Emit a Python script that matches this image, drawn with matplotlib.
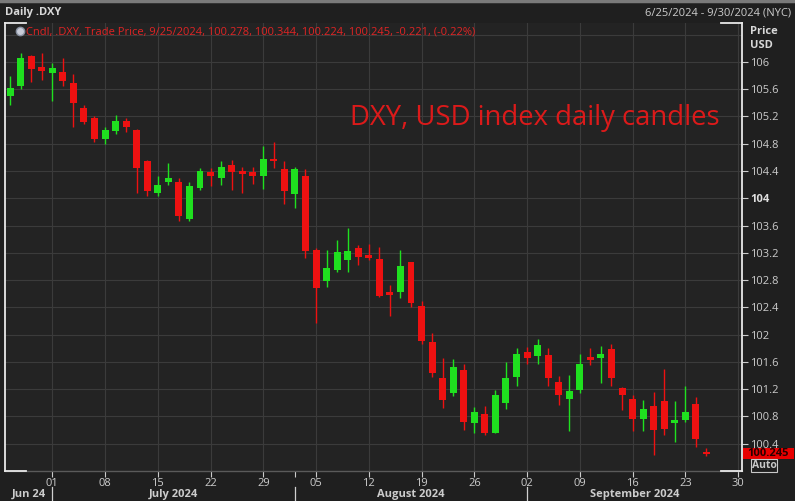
import numpy as np
import pandas as pd
import matplotlib
matplotlib.use("Agg")
import matplotlib.pyplot as plt
from matplotlib.patches import Rectangle

# DXY daily candles, 25 Jun - 25 Sep 2024
dates = pd.bdate_range("2024-06-25", "2024-09-25")
opens = [105.50, 105.65, 106.08, 105.93, 105.84, 105.85, 105.69, 105.33, 105.17, 104.87,
         104.99, 105.14, 105.00, 104.54, 104.07, 104.24, 104.24, 103.70, 104.15, 104.38,
         104.30, 104.49, 104.39, 104.38, 104.33, 104.57, 104.43, 104.06, 104.32, 103.24,
         102.79, 102.95, 103.10, 103.27, 103.17, 103.11, 102.63, 102.63, 103.06, 102.42,
         101.89, 101.37, 101.14, 101.48, 100.70, 100.84, 100.56, 101.00, 101.38, 101.74,
         101.68, 101.70, 101.30, 101.06, 101.19, 101.66, 101.66, 101.79, 101.22, 101.06,
         100.76, 100.95, 101.03, 100.70, 100.75, 100.98, 100.278]
highs = [105.79, 106.13, 106.10, 106.13, 105.99, 106.06, 105.82, 105.37, 105.20, 105.04,
         105.22, 105.17, 105.02, 104.56, 104.33, 104.51, 104.30, 104.24, 104.44, 104.44,
         104.55, 104.56, 104.46, 104.46, 104.77, 104.82, 104.55, 104.46, 104.43, 103.27,
         103.24, 103.39, 103.56, 103.32, 103.33, 103.29, 102.73, 103.24, 103.07, 102.49,
         102.02, 101.66, 101.64, 101.57, 100.94, 100.95, 101.19, 101.60, 101.81, 101.82,
         101.94, 101.80, 101.39, 101.41, 101.72, 101.80, 101.83, 101.86, 101.23, 101.12,
         101.04, 101.16, 101.50, 101.03, 101.25, 101.08, 100.344]
lows = [105.37, 105.60, 105.71, 105.73, 105.42, 105.65, 105.05, 105.09, 104.83, 104.80,
        104.94, 104.97, 104.08, 104.03, 104.03, 104.20, 103.66, 103.66, 104.12, 104.18,
        104.20, 104.12, 104.08, 104.21, 104.14, 104.45, 103.92, 103.86, 103.12, 102.17,
        102.70, 102.92, 102.92, 103.02, 103.10, 102.55, 102.27, 102.54, 102.40, 101.86,
        101.38, 100.93, 101.10, 100.60, 100.55, 100.53, 100.55, 100.91, 101.25, 101.57,
        101.57, 101.25, 100.97, 100.59, 101.15, 101.55, 101.29, 101.24, 100.89, 100.59,
        100.58, 100.23, 100.53, 100.42, 100.72, 100.35, 100.224]
closes = [105.61, 106.05, 105.90, 105.86, 105.91, 105.72, 105.40, 105.12, 104.87, 105.00,
          105.13, 105.05, 104.44, 104.10, 104.20, 104.29, 103.74, 104.18, 104.40, 104.32,
          104.46, 104.39, 104.36, 104.32, 104.58, 104.54, 104.10, 104.43, 103.22, 102.69,
          102.97, 103.21, 103.23, 103.14, 103.13, 102.56, 102.58, 103.00, 102.47, 101.90,
          101.44, 101.04, 101.53, 100.72, 100.86, 100.56, 101.12, 101.37, 101.72, 101.66,
          101.85, 101.37, 101.12, 101.18, 101.57, 101.63, 101.71, 101.37, 101.12, 100.76,
          100.91, 100.60, 100.62, 100.75, 100.86, 100.47, 100.245]

price_ticks = [100.4, 100.8, 101.2, 101.6, 102.0, 102.4, 102.8, 103.2, 103.6, 104.0,
               104.4, 104.8, 105.2, 105.6, 106.0]
price_labels = ["100.4", "100.8", "101.2", "101.6", "102", "102.4", "102.8", "103.2",
                "103.6", "104", "104.4", "104.8", "105.2", "105.6", "106"]
months = ["Jun 24", "July 2024", "August 2024", "September 2024"]

plt.rcParams["font.family"] = ["Open Sans", "DejaVu Sans"]

W, H = 795, 501
BG = "#1f1f1f"
PLOT_BG = "#232323"
GRID = "#3b3b3b"
TXT = "#cccccc"
UP = "#1fe01f"
DOWN = "#ee1111"

def fx(px):
    return px / W

def fy(py):
    return 1 - py / H

fig = plt.figure(figsize=(W / 100, H / 100), dpi=100, facecolor=BG)
ax = fig.add_axes([fx(5), fy(471), fx(742) - fx(5), fy(23) - fy(471)], facecolor=PLOT_BG)

# trading-day axis, Jul 1 = 0
axis_days = pd.bdate_range("2024-06-25", "2024-09-30")
pos = {d: i - 4 for i, d in enumerate(axis_days)}
x = np.array([pos[d] for d in dates])

o = np.array(opens)
h = np.array(highs)
l = np.array(lows)
c = np.array(closes)
cols = np.where(c >= o, UP, DOWN)

ax.vlines(x, l, h, colors=cols, lw=1.0, zorder=3)
body = np.maximum(np.abs(c - o), 0.04)
ax.bar(x, body, bottom=np.minimum(o, c), width=0.66, color=cols, zorder=4)

ax.set_xlim(-4.48, 65.37)
ax.set_ylim(100.0, 106.57)

# grid
mondays = [d for d in axis_days if d.weekday() == 0]
mon_x = [pos[d] for d in mondays]
for gx in mon_x:
    ax.axvline(gx, color=GRID, lw=0.8, zorder=1)
for gy in price_ticks + [106.4]:
    ax.axhline(gy, color=GRID, lw=0.8, zorder=1)

# frame: white sides, white corner stubs
for s in ["top", "bottom"]:
    ax.spines[s].set_visible(False)
for s in ["left", "right"]:
    ax.spines[s].set_color("#e8e8e8")
    ax.spines[s].set_linewidth(1.3)
ax.plot([0, 1], [0, 0], color="#5a5a5a", lw=1.0, transform=ax.transAxes, clip_on=False)
stub = 21 / 737
for x0, x1 in [(0, stub), (1 - stub, 1)]:
    for yy in [0, 1]:
        ax.plot([x0, x1], [yy, yy], color="#e8e8e8", lw=1.3, transform=ax.transAxes, clip_on=False)

# right price axis
ax.yaxis.tick_right()
ax.set_yticks(price_ticks)
ax.set_yticklabels(price_labels)
ax.tick_params(axis="y", direction="out", length=4, width=0.8, color=TXT,
               labelcolor=TXT, labelsize=8, pad=2)
for lab in ax.get_yticklabels():
    if lab.get_text() == "104":
        lab.set_fontweight("bold")
        lab.set_color("#e0e0e0")

# bottom date axis
ax.set_xticks(mon_x + [pos[pd.Timestamp("2024-08-01")]])
ax.set_xticklabels([d.strftime("%d") for d in mondays] + [""])
ax.tick_params(axis="x", direction="out", length=4, width=0.8, color=TXT,
               labelcolor=TXT, labelsize=8, pad=1)

# month row
bounds = [-4.48, pos[pd.Timestamp("2024-07-01")], pos[pd.Timestamp("2024-08-01")],
          pos[pd.Timestamp("2024-09-02")], 65.37]
for i, name in enumerate(months):
    mid = (bounds[i] + bounds[i + 1]) / 2
    ax.text(mid, -0.052, name, transform=ax.get_xaxis_transform(), ha="center", va="center",
            fontsize=8, fontweight="bold", color=TXT, clip_on=False)
for b in bounds[1:4]:
    ax.plot([b, b], [-0.036, -0.07], color="#d0d0d0", lw=0.9,
            transform=ax.get_xaxis_transform(), clip_on=False)

# header
fig.add_artist(plt.Line2D([0, 1], [fy(1), fy(1)], color="#7a7a7a", lw=2.5))
fig.text(fx(5), fy(13), "Daily .DXY", fontsize=8, fontweight="bold", color="#d8d8d8",
         ha="left", va="center")
fig.text(fx(791), fy(13), "6/25/2024 - 9/30/2024 (NYC)", fontsize=8, color=TXT,
         ha="right", va="center")
fig.add_artist(plt.Line2D([fx(20)], [fy(31)], marker="o", markersize=6,
                          markerfacecolor="#c8ccd8", markeredgecolor="#8890a0"))
fig.text(fx(26), fy(32), "Cndl, .DXY, Trade Price, 9/25/2024, 100.278, 100.344, 100.224, "
         "100.245, -0.221, (-0.22%)", fontsize=8, color="#e02424", ha="left", va="center")
fig.text(fx(750), fy(32), "Price", fontsize=8, fontweight="bold", color="#d8d8d8",
         ha="left", va="center")
fig.text(fx(750), fy(45), "USD", fontsize=8, fontweight="bold", color="#d8d8d8",
         ha="left", va="center")

# last price tag + Auto button
fig.add_artist(Rectangle((fx(743), fy(459)), fx(794) - fx(743), fy(448) - fy(459),
                         transform=fig.transFigure, fc="#e80000", ec="none"))
fig.text(fx(768.5), fy(454), "100.245", fontsize=8, fontweight="bold", color="#2a0000",
         ha="center", va="center")
fig.text(fx(764), fy(465.5), "Auto", fontsize=7.5, fontweight="bold", color="#c8c8c8",
         ha="center", va="center",
         bbox=dict(boxstyle="square,pad=0.1", fc=BG, ec="#c8c8c8", lw=0.8))

# annotation
ax.text(0.970, 0.772, "DXY, USD index daily candles", transform=ax.transAxes,
        fontsize=19.8, color="#dc1a1a", ha="right", va="baseline")

fig.savefig("out.png", dpi=100, facecolor=BG)
